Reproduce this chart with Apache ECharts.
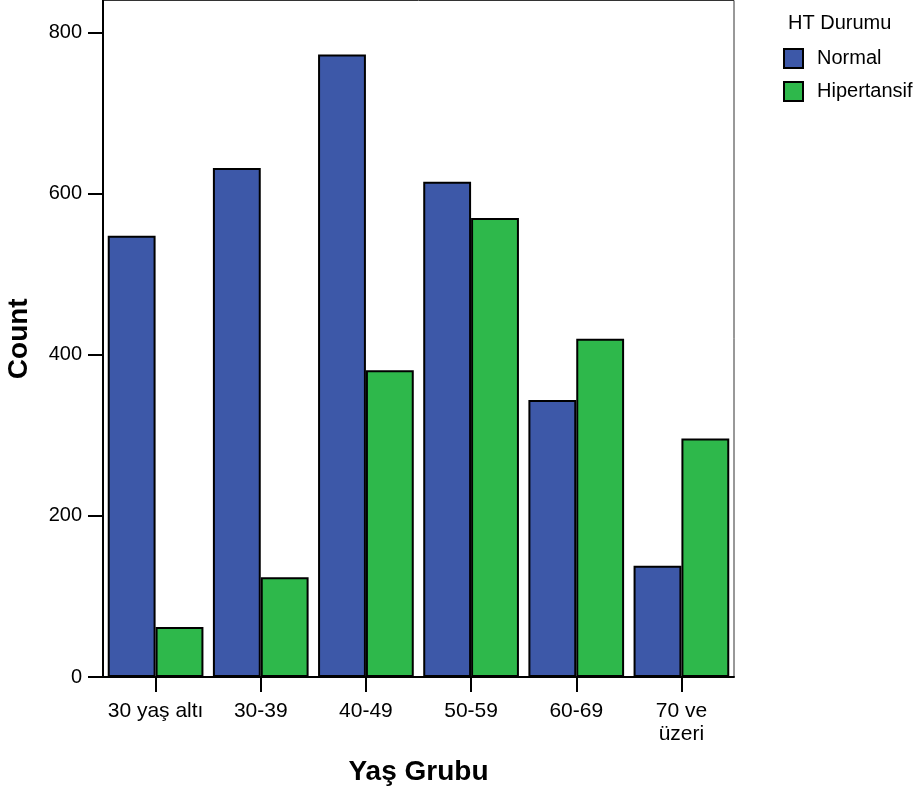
<!DOCTYPE html>
<html><head><meta charset="utf-8">
<script src="https://cdn.jsdelivr.net/npm/echarts@6/dist/echarts.min.js"></script>
<style>html,body{margin:0;padding:0;background:#fff}#c{width:923px;height:796px}</style>
</head><body><div id="c"></div>
<script>
const categories = ['30 yaş altı','30-39','40-49','50-59','60-69','70 ve\nüzeri'];
const normal = [548, 632, 773, 615, 344, 138];
const hipertansif = [62, 124, 381, 570, 420, 296];
const yTicks = [0, 200, 400, 600, 800];

const font = 'Liberation Sans, Arial, sans-serif';
const chart = echarts.init(document.getElementById('c'));
chart.setOption({
  animation: false,
  backgroundColor: '#fff',
  grid: {left: 103, right: 189, top: 0.5, bottom: 119, show: true, borderColor: '#333', borderWidth: 1,
         outerBoundsMode: 'none', containLabel: false},
  legend: {
    orient: 'vertical', left: 778, top: 43, itemWidth: 19, itemHeight: 19, itemGap: 12,
    icon: 'rect',
    itemStyle: {borderColor: '#000', borderWidth: 2},
    textStyle: {fontFamily: font, fontSize: 20, color: '#000', padding: [0, 0, 0, 9], lineHeight: 19},
    data: ['Normal', 'Hipertansif']
  },
  graphic: [
    {type: 'text', left: 788, top: 13, style: {text: 'HT Durumu', fontFamily: font, fontSize: 20, fill: '#000'}}
  ],
  xAxis: {
    type: 'category', data: categories,
    name: 'Yaş Grubu', nameLocation: 'middle', nameGap: 81,
    nameTextStyle: {fontFamily: font, fontSize: 28, fontWeight: 'bold', color: '#000'},
    axisLine: {show: true, lineStyle: {color: '#000', width: 2}},
    axisTick: {show: true, alignWithLabel: true, interval: 0, inside: false, length: 15, lineStyle: {color: '#000', width: 2}},
    axisLabel: {interval: 0, fontFamily: font, fontSize: 21, color: '#000', margin: 23, lineHeight: 23}
  },
  yAxis: {
    type: 'value', min: 0, max: 840, interval: 200,
    name: 'Count', nameLocation: 'middle', nameGap: 70, nameRotate: 90,
    nameTextStyle: {fontFamily: font, fontSize: 28, fontWeight: 'bold', color: '#000'},
    axisLine: {show: true, lineStyle: {color: '#000', width: 2}},
    axisTick: {show: true, length: 15, lineStyle: {color: '#000', width: 2}},
    splitLine: {show: false},
    axisLabel: {fontFamily: font, fontSize: 20, color: '#000', margin: 21, showMaxLabel: false,
      formatter: v => yTicks.includes(v) ? String(v) : ''}
  },
  series: [
    {name: 'Normal', type: 'bar', data: normal, barGap: '0%', barCategoryGap: '9%',
     itemStyle: {color: '#3d58a8', borderColor: '#000', borderWidth: 2}},
    {name: 'Hipertansif', type: 'bar', data: hipertansif,
     itemStyle: {color: '#2eb84b', borderColor: '#000', borderWidth: 2}}
  ]
});
</script></body></html>
